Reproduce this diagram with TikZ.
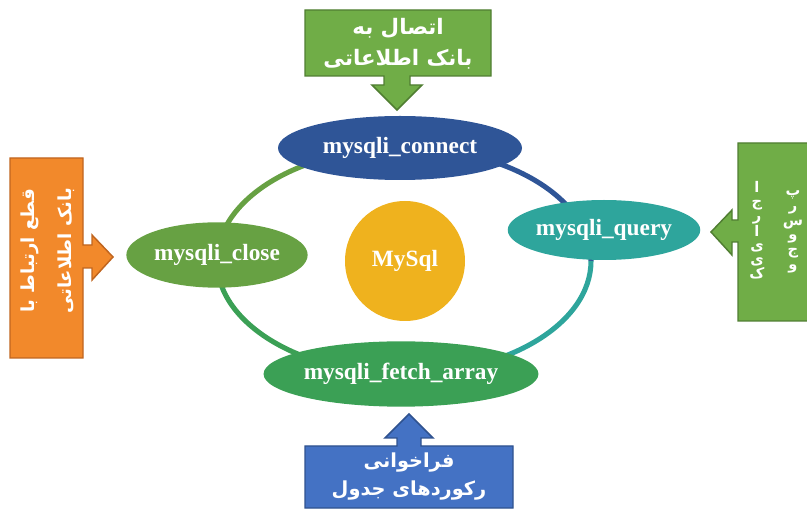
\documentclass[tikz,border=0pt]{standalone}
\usepackage{fontspec}
\setmainfont{Liberation Serif}
\newfontfamily\arabicfont[Script=Arabic]{DejaVu Sans}
\TeXXeTstate=1
\usetikzlibrary{shapes.geometric}
\definecolor{cConnect}{HTML}{2F5597}
\definecolor{cQuery}{HTML}{2EA59C}
\definecolor{cClose}{HTML}{67A143}
\definecolor{cFetch}{HTML}{3BA055}
\definecolor{cMySql}{HTML}{EFB21E}
\definecolor{cGreenBox}{HTML}{70AD47}
\definecolor{cGreenLine}{HTML}{507E32}
\definecolor{cOrange}{HTML}{F2892B}
\definecolor{cOrangeLine}{HTML}{C0651F}
\definecolor{cBlueBox}{HTML}{4472C4}
\definecolor{cBlueLine}{HTML}{2F528F}
\begin{document}
\begin{tikzpicture}[x=0.75pt,y=-0.75pt,
  op/.style={ellipse, inner sep=0pt, text=white,
    font=\fontsize{17.5}{20}\selectfont\bfseries},
  ring/.style={line width=3.8pt},
  callout/.style={line width=1.1pt, line join=miter},
  ptext/.style={text=white, align=center, inner sep=0pt}]
\useasboundingbox (0,0) rectangle (807,509);
% ring
\coordinate (ringc) at (404,261);
\draw[ring, cClose] (ringc) ++(180:187 and 113) arc[start angle=180, end angle=270, x radius=187, y radius=113];
\draw[ring, cConnect] (ringc) ++(270:187 and 113) arc[start angle=270, end angle=360, x radius=187, y radius=113];
\draw[ring, cQuery] (ringc) ++(0:187 and 113) arc[start angle=0, end angle=90, x radius=187, y radius=113];
\draw[ring, cFetch] (ringc) ++(90:187 and 113) arc[start angle=90, end angle=180, x radius=187, y radius=113];
% nodes
\node[op, fill=cConnect, minimum width=183pt, minimum height=48pt] (connect) at (400,148) {mysqli\_connect};
\node[op, fill=cQuery, minimum width=135pt, minimum height=45pt] (query) at (604,230) {mysqli\_query};
\node[op, fill=cClose, minimum width=136pt, minimum height=49pt] (close) at (217,255) {mysqli\_close};
\node[op, fill=cFetch, minimum width=177pt, minimum height=49pt] (fetch) at (401,374) {mysqli\_fetch\_array};
\node[circle, fill=cMySql, minimum size=90pt, inner sep=0pt, text=white,
  font=\fontsize{17.5}{20}\selectfont\bfseries] (mysql) at (405,261) {MySql};
% top callout
\filldraw[callout, fill=cGreenBox, draw=cGreenLine] (305,10) -- (491,10) -- (491,76) -- (410,76) -- (410,85) -- (422,85) -- (397,110) -- (372,85) -- (384,85) -- (384,76) -- (305,76) -- cycle;
\node[ptext, font=\arabicfont\bfseries\fontsize{16}{23}\selectfont] (ttop) at (398,44) {\beginR اتصال به\endR\\\beginR بانک اطلاعاتی\endR};
% left callout
\filldraw[callout, fill=cOrange, draw=cOrangeLine] (10,158) -- (83,158) -- (83,245) -- (92,245) -- (92,235) -- (113,257) -- (92,280) -- (92,268) -- (83,268) -- (83,358) -- (10,358) -- cycle;
\node[ptext, rotate=90, font=\arabicfont\bfseries\fontsize{13.5}{28}\selectfont] (tleft) at (48,251) {\beginR قطع ارتباط با\endR\\\beginR بانک اطلاعاتی\endR};
% right callout
\filldraw[callout, fill=cGreenBox, draw=cGreenLine] (738,143) -- (812,143) -- (812,321) -- (738,321) -- (738,242) -- (732,242) -- (732,255) -- (711,232) -- (732,210) -- (732,220) -- (738,220) -- cycle;
\node[ptext, font=\arabicfont\bfseries\fontsize{11}{10.5}\selectfont] (tright1) at (757,230) {ا\\ج\\ر\\ا\\ی\\ی\\ک};
\node[ptext, font=\arabicfont\bfseries\fontsize{11}{11}\selectfont] (tright2) at (793,232) {پ\\ر\\س\\و\\ج\\و};
% bottom callout
\filldraw[callout, fill=cBlueBox, draw=cBlueLine] (305,446) -- (397,446) -- (397,438) -- (385,438) -- (409,414) -- (433,438) -- (421,438) -- (421,446) -- (513,446) -- (513,508) -- (305,508) -- cycle;
\node[ptext, font=\arabicfont\bfseries\fontsize{14.5}{21}\selectfont] (tbottom) at (409,477) {\beginR فراخوانی\endR\\\beginR رکوردهای جدول\endR};
\end{tikzpicture}
\end{document}
